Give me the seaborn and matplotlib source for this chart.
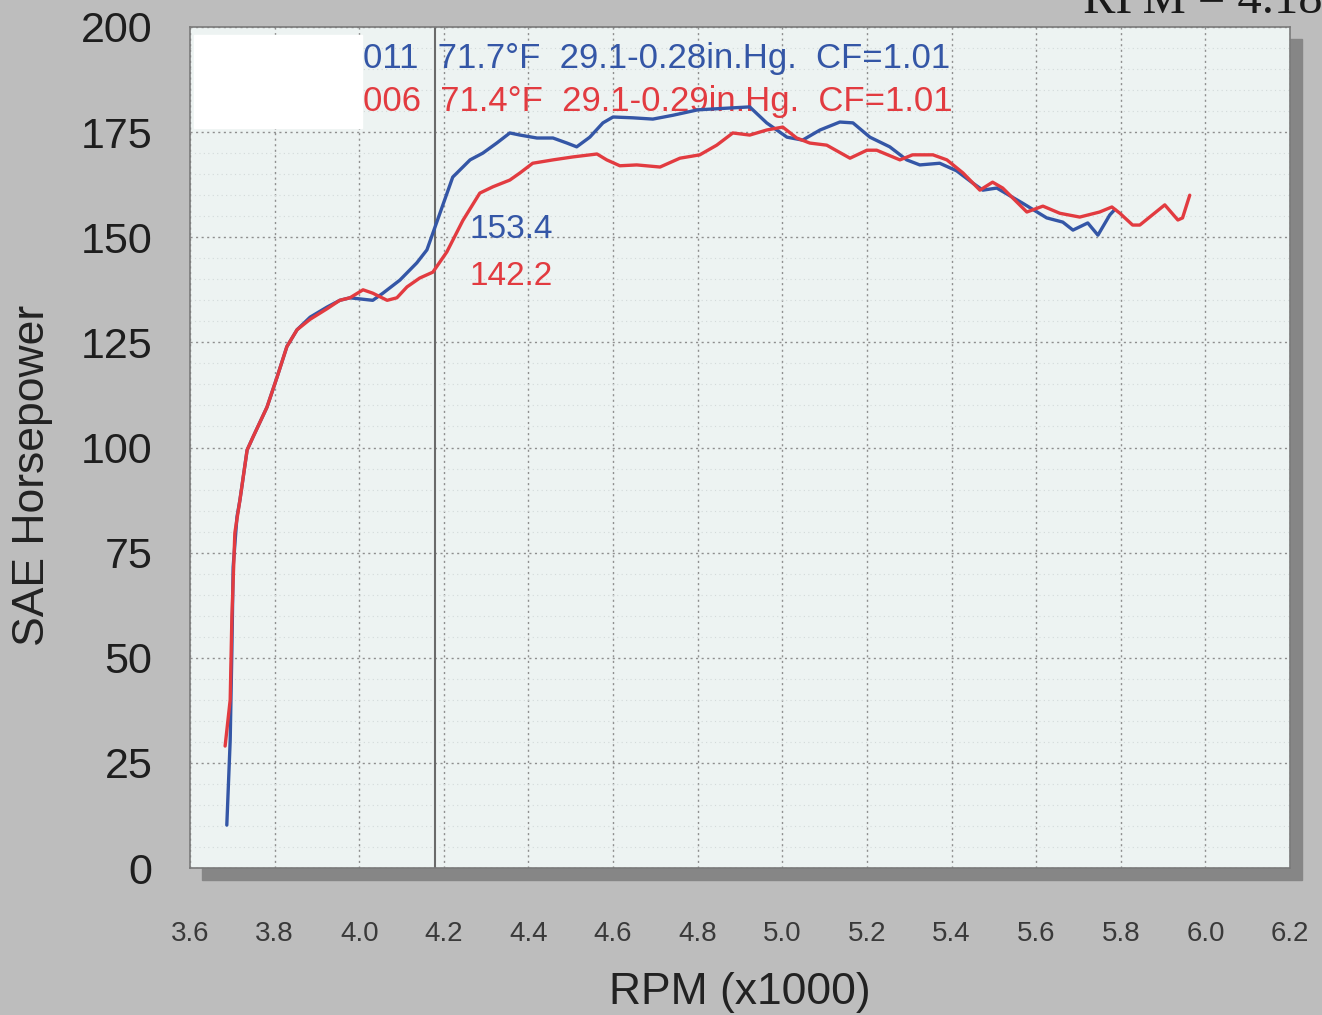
import matplotlib
matplotlib.use("Agg")
import matplotlib.pyplot as plt
from matplotlib.patches import Rectangle
from matplotlib.ticker import MultipleLocator
import pandas as pd
import seaborn as sns

# ── Dyno runs, RPM (x1000) vs SAE hp ─────────────────────────────────────────
rpm_011 = [3.687, 3.695, 3.699, 3.702, 3.711, 3.718, 3.735, 3.749, 3.782, 3.806,
           3.829, 3.853, 3.884, 3.924, 3.954, 3.978, 4.032, 4.056, 4.096, 4.136,
           4.160, 4.184, 4.221, 4.262, 4.292, 4.325, 4.356, 4.380, 4.420, 4.458,
           4.491, 4.514, 4.545, 4.576, 4.600, 4.647, 4.694, 4.741, 4.800, 4.923,
           4.963, 5.011, 5.048, 5.089, 5.136, 5.167, 5.207, 5.254, 5.294, 5.325,
           5.372, 5.412, 5.450, 5.474, 5.507, 5.568, 5.625, 5.663, 5.687, 5.722,
           5.746, 5.774, 5.786]
hp_011 = [10.2, 30.4, 51.8, 71.6, 83.5, 87.5, 99.4, 102.5, 109.6, 116.8,
          124.0, 128.0, 131.0, 133.4, 135.0, 135.6, 135.0, 136.7, 139.8, 143.9,
          147.0, 153.8, 164.3, 168.4, 170.0, 172.4, 174.8, 174.3, 173.6, 173.6,
          172.4, 171.5, 173.8, 177.2, 178.6, 178.4, 178.1, 179.0, 180.3, 181.0,
          177.2, 173.8, 173.1, 175.5, 177.4, 177.2, 173.8, 171.5, 168.4, 167.2,
          167.6, 165.8, 162.9, 161.2, 161.7, 158.1, 154.6, 153.6, 151.7, 153.4,
          150.5, 155.3, 156.6]

rpm_006 = [3.683, 3.695, 3.699, 3.706, 3.718, 3.735, 3.749, 3.782, 3.806, 3.829,
           3.853, 3.884, 3.924, 3.954, 3.978, 4.009, 4.032, 4.066, 4.089, 4.113,
           4.143, 4.174, 4.207, 4.245, 4.285, 4.316, 4.356, 4.380, 4.410, 4.458,
           4.505, 4.562, 4.585, 4.616, 4.656, 4.711, 4.758, 4.805, 4.845, 4.883,
           4.923, 4.963, 5.001, 5.034, 5.065, 5.105, 5.160, 5.200, 5.223, 5.278,
           5.308, 5.356, 5.389, 5.427, 5.467, 5.497, 5.521, 5.578, 5.616, 5.656,
           5.703, 5.750, 5.779, 5.798, 5.828, 5.845, 5.904, 5.935, 5.946, 5.963]
hp_006 = [29.0, 40.0, 59.7, 79.7, 87.5, 99.4, 102.5, 109.6, 116.8, 124.0,
          128.0, 130.5, 133.0, 135.0, 135.6, 137.5, 136.7, 135.0, 135.6, 138.2,
          140.3, 141.7, 146.5, 154.0, 160.5, 162.0, 163.6, 165.3, 167.6, 168.4,
          169.1, 169.8, 168.4, 167.0, 167.2, 166.7, 168.8, 169.6, 171.9, 174.8,
          174.3, 175.5, 176.2, 173.6, 172.4, 171.9, 168.8, 170.7, 170.7, 168.4,
          169.6, 169.6, 168.4, 165.3, 161.2, 163.1, 161.7, 156.0, 157.4, 155.7,
          154.8, 156.0, 157.2, 155.7, 152.9, 152.9, 157.7, 154.1, 154.6, 160.0]

run_labels = ["011  71.7°F  29.1-0.28in.Hg.  CF=1.01",
              "006  71.4°F  29.1-0.29in.Hg.  CF=1.01"]
cursor_rpm = 4.18
cursor_hp = [153.4, 142.2]

x_ticks = [3.6, 3.8, 4.0, 4.2, 4.4, 4.6, 4.8, 5.0, 5.2, 5.4, 5.6, 5.8, 6.0, 6.2]
y_ticks = [0, 25, 50, 75, 100, 125, 150, 175, 200]

blue = "#3456a6"
red = "#e23b40"

df = pd.concat([
    pd.DataFrame({"rpm": rpm_011, "hp": hp_011, "run": "011"}),
    pd.DataFrame({"rpm": rpm_006, "hp": hp_006, "run": "006"}),
])

sns.set_style("white")
plt.rcParams["font.family"] = ["Liberation Sans", "DejaVu Sans"]

W, H = 1322, 1015
fig = plt.figure(figsize=(W / 100, H / 100), dpi=100, facecolor="#bdbdbd")
ax = fig.add_axes([190 / W, 147 / H, 1100 / W, 841 / H])
ax.set_zorder(2)
ax.set_facecolor("#edf3f2")

# drop shadow behind the plot box
fig.patches.append(Rectangle((202 / W, 135 / H), 1100 / W, 841 / H,
                             transform=fig.transFigure, color="#868686", zorder=0))

sns.lineplot(data=df, x="rpm", y="hp", hue="run", hue_order=["011", "006"],
             palette={"011": blue, "006": red}, sort=False, estimator=None,
             lw=2.4, legend=False, ax=ax, zorder=4)

ax.set_xlim(3.6, 6.2)
ax.set_ylim(0, 200)
ax.set_xticks(x_ticks)
ax.set_xticklabels([f"{t:.1f}" for t in x_ticks])
ax.set_yticks(y_ticks)
ax.xaxis.set_minor_locator(MultipleLocator(0.04))
ax.yaxis.set_minor_locator(MultipleLocator(5))

ax.tick_params(axis="x", which="both", direction="in", length=15, width=1,
               color="#8a8a8a", pad=38, labelsize=20, labelcolor="#3a3a3a")
ax.tick_params(axis="y", which="major", direction="in", length=6, width=1,
               color="#8a8a8a", pad=27, labelsize=31, labelcolor="#1e1e1e")
ax.tick_params(axis="y", which="minor", direction="in", length=5, width=1,
               color="#9a9a9a")
for lbl in ax.get_xticklabels():
    lbl.set_family(["Liberation Sans Narrow", "Liberation Sans"])

ax.grid(True, which="major", color="#8e8e8e", linestyle=(0, (1.5, 2.5)), lw=1.0)
ax.grid(True, which="minor", axis="y", color="#d3dada", linestyle=(0, (1, 3)), lw=0.8)
for s in ax.spines.values():
    s.set_color("#7a7a7a")
    s.set_linewidth(1.2)

# cursor line and readouts
ax.axvline(cursor_rpm, color="#6a6a6a", lw=1.5, zorder=2)
ax.text(cursor_rpm + 0.08, cursor_hp[0] - 1.5, f"{cursor_hp[0]:.1f}", color=blue,
        fontsize=24, va="center", zorder=5)
ax.text(cursor_rpm + 0.08, cursor_hp[1] - 1.5, f"{cursor_hp[1]:.1f}", color=red,
        fontsize=24, va="center", zorder=5)

# blanked-out box top left
ax.add_patch(Rectangle((0.004, 0.88), 0.152, 0.11, transform=ax.transAxes,
                       color="white", zorder=3))

ax.text(0.157, 0.963, run_labels[0], color=blue, fontsize=25, va="center",
        transform=ax.transAxes, zorder=3)
ax.text(0.157, 0.911, run_labels[1], color=red, fontsize=25, va="center",
        transform=ax.transAxes, zorder=3)

ax.set_xlabel("RPM (x1000)", fontsize=32, color="#222222", va="center")
ax.xaxis.set_label_coords(0.5, -0.1486)
ax.set_ylabel("SAE Horsepower", fontsize=32, color="#222222", va="center")
ax.yaxis.set_label_coords(-0.1436, 0.467)

# title cut off by the scan at the top edge
fig.text(1083 / W, (H - 13) / H, f"RPM = {cursor_rpm:.2f}", family="Liberation Serif",
         fontsize=35, va="baseline", color="#1a1a1a")

fig.savefig("out.png", dpi=100, facecolor=fig.get_facecolor())
